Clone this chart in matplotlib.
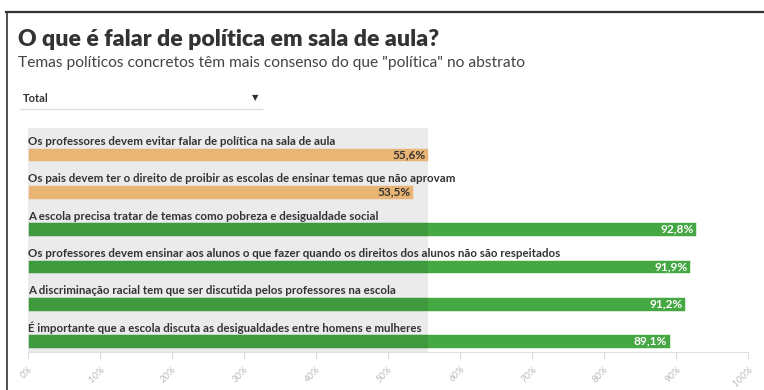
import matplotlib.pyplot as plt
from matplotlib.lines import Line2D

# Data
statements = [
    'Os professores devem evitar falar de política na sala de aula',
    'Os pais devem ter o direito de proibir as escolas de ensinar temas que não aprovam',
    'A escola precisa tratar de temas como pobreza e desigualdade social',
    'Os professores devem ensinar aos alunos o que fazer quando os direitos dos alunos não são respeitados',
    'A discriminação racial tem que ser discutida pelos professores na escola',
    'É importante que a escola discuta as desigualdades entre homens e mulheres',
]
values = [55.6, 53.5, 92.8, 91.9, 91.2, 89.1]
groups = ['orange', 'orange', 'green', 'green', 'green', 'green']
xticks = [0, 10, 20, 30, 40, 50, 60, 70, 80, 90, 100]

title = 'O que é falar de política em sala de aula?'
subtitle = 'Temas políticos concretos têm mais consenso do que "política" no abstrato'

bar_colors = {'orange': '#fdc47e', 'green': '#45a843'}
value_colors = {'orange': '#333333', 'green': 'white'}
highlight = values[0]

plt.rcParams['font.family'] = ['Lato', 'DejaVu Sans']

W, H = 764, 390
fig = plt.figure(figsize=(W / 100, H / 100), dpi=100)

# screenshot frame (top and left)
fig.add_artist(Line2D([6 / W, 1], [1 - 11.5 / H] * 2, color='#333333', lw=1.6))
fig.add_artist(Line2D([6.5 / W] * 2, [0, 1 - 11.5 / H], color='#333333', lw=1.2))

fig.text(18 / W, 1 - 40 / H, title, fontsize=16.6, fontweight='heavy',
         color='#333333', va='center')
fig.text(18 / W, 1 - 63 / H, subtitle, fontsize=11.2, color='#444444', va='center')

# dropdown
fig.text(23 / W, 1 - 98 / H, 'Total', fontsize=8, fontweight='bold',
         color='#333333', va='center')
fig.text(255 / W, 1 - 98 / H, '▼', fontsize=6, color='#333333', va='center',
         ha='center', family='DejaVu Sans')
fig.add_artist(Line2D([20 / W, 262 / W], [1 - 108.5 / H] * 2, color='#dddddd', lw=1))

ax = fig.add_axes([28 / W, 1 - 352 / H, 720 / W, 224 / H])
n = len(values)
ypos = [i + 0.71 for i in range(n)]
colors = [bar_colors[g] for g in groups]
ax.barh(ypos, values, height=0.36, color=colors, zorder=2,
        edgecolor='white', linewidth=0.4)
ax.axvspan(0, highlight, color='black', alpha=0.08, zorder=3, lw=0)

for i, (s, v, g) in enumerate(zip(statements, values, groups)):
    ax.text(0, i + 0.36, s, fontsize=8.3, fontweight='bold', color='#333333',
            va='center', ha='left', zorder=4)
    ax.text(v - 0.3, ypos[i], f'{v:.1f}%'.replace('.', ','), fontsize=8.6,
            fontweight='bold', color=value_colors[g], va='center', ha='right',
            zorder=4)

ax.set_xlim(0, 100)
ax.set_ylim(n, 0)
ax.set_yticks([])
ax.set_xticks(xticks)
ax.set_xticklabels([f'{t}%' for t in xticks], rotation=45, ha='right',
                   rotation_mode='anchor', fontsize=7, color='#bbbbbb', style='italic')
ax.tick_params(axis='x', length=5, color='#dddddd', pad=4)
for side in ['top', 'right', 'left']:
    ax.spines[side].set_visible(False)
ax.spines['bottom'].set_color('#e0e0e0')
ax.patch.set_alpha(0)

fig.savefig('out.png', dpi=100)
